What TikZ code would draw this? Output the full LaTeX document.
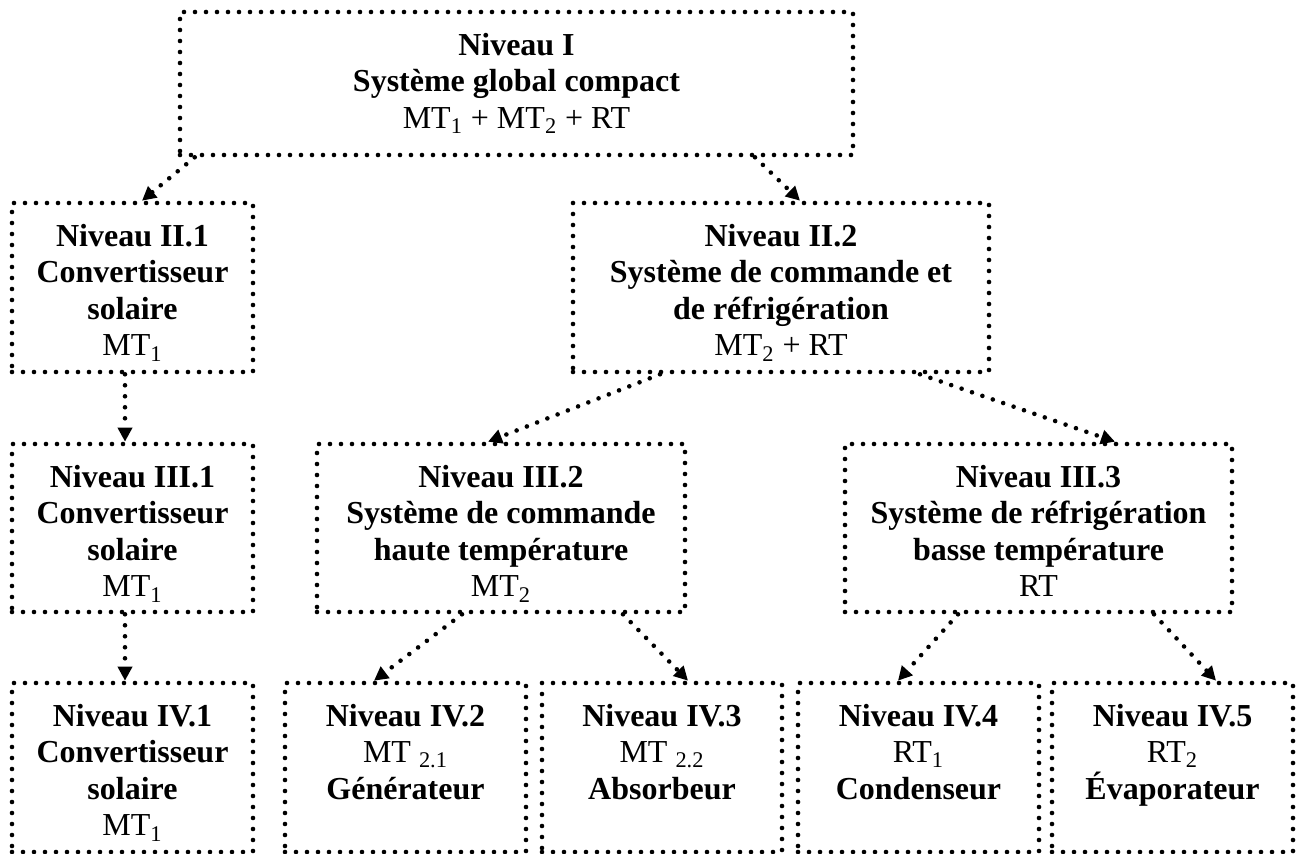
\documentclass[tikz,border=0pt]{standalone}
\usepackage{fontspec}
\setmainfont{Liberation Serif}
\usetikzlibrary{arrows.meta}
\newcommand\myhead{\rule{0pt}{21.5pt}}
\begin{document}
\begin{tikzpicture}[x=0.5pt,y=-0.5pt,
  box/.style={draw, line width=2.3pt, dash pattern=on 0pt off 5.5pt, line cap=round,
    align=center, inner sep=0pt, font=\fontsize{16}{18.3}\selectfont,
    execute at end node={\rule[-#1]{0pt}{#1}}},
  box/.default=8pt,
  link/.style={line width=2.3pt, dash pattern=on 0pt off 5.5pt, line cap=round,
    -{Triangle[length=7pt,width=7pt]}}]
\useasboundingbox (0,0) rectangle (1300,854);

\node[box=13.3pt, minimum width=336.5pt, minimum height=71.5pt] (top) at (516.5,83.5)
  {\myhead\textbf{Niveau I}\\\textbf{Système global compact}\\MT\textsubscript{1} + MT\textsubscript{2} + RT};

\node[box, minimum width=120.5pt, minimum height=84.5pt] (II1) at (132.5,287.5)
  {\myhead\textbf{Niveau II.1}\\\textbf{Convertisseur}\\\textbf{solaire}\\MT\textsubscript{1}};
\node[box, minimum width=208pt, minimum height=84.5pt] (II2) at (781,287.5)
  {\myhead\textbf{Niveau II.2}\\\textbf{Système de commande et}\\\textbf{de réfrigération}\\MT\textsubscript{2} + RT};

\node[box=7.5pt, minimum width=120.5pt, minimum height=84pt] (III1) at (132.5,528)
  {\myhead\textbf{Niveau III.1}\\\textbf{Convertisseur}\\\textbf{solaire}\\MT\textsubscript{1}};
\node[box=7.5pt, minimum width=184pt, minimum height=84pt] (III2) at (501,528)
  {\myhead\textbf{Niveau III.2}\\\textbf{Système de commande}\\\textbf{haute température}\\MT\textsubscript{2}};
\node[box=7.5pt, minimum width=193.5pt, minimum height=84pt] (III3) at (1038.5,528)
  {\myhead\textbf{Niveau III.3}\\\textbf{Système de réfrigération}\\\textbf{basse température}\\RT};

\node[box, minimum width=120.5pt, minimum height=84.5pt] (IV1) at (132.5,767.5)
  {\myhead\textbf{Niveau IV.1}\\\textbf{Convertisseur}\\\textbf{solaire}\\MT\textsubscript{1}};
\node[box, minimum width=120.5pt, minimum height=84.5pt] (IV2) at (405.5,767.5)
  {\myhead\textbf{Niveau IV.2}\\MT \textsubscript{2.1}\\\textbf{Générateur}\\};
\node[box, minimum width=120pt, minimum height=84.5pt] (IV3) at (662,767.5)
  {\myhead\textbf{Niveau IV.3}\\MT \textsubscript{2.2}\\\textbf{Absorbeur}\\};
\node[box, minimum width=120.5pt, minimum height=84.5pt] (IV4) at (918.5,767.5)
  {\myhead\textbf{Niveau IV.4}\\RT\textsubscript{1}\\\textbf{Condenseur}\\};
\node[box, minimum width=120.5pt, minimum height=84.5pt] (IV5) at (1172.5,767.5)
  {\myhead\textbf{Niveau IV.5}\\RT\textsubscript{2}\\\textbf{Évaporateur}\\};

\draw[link] ([xshift=8.5pt]top.south west) -- ([xshift=4.75pt]II1.north);
\draw[link] ([xshift=119.25pt]top.south) -- ([xshift=9.5pt]II2.north);
\draw[link] ([xshift=-3.75pt]II1.south) -- ([xshift=-3.75pt]III1.north);
\draw[link] ([xshift=-60.5pt]II2.south) -- ([xshift=-6.5pt]III2.north);
\draw[link] ([xshift=69.5pt]II2.south) -- ([xshift=38.25pt]III3.north);
\draw[link] ([xshift=-3.75pt]III1.south) -- ([xshift=-3.75pt]IV1.north);
\draw[link] ([xshift=-19.5pt]III2.south) -- ([xshift=-15.75pt]IV2.north);
\draw[link] ([xshift=61pt]III2.south) -- ([xshift=13pt]IV3.north);
\draw[link] ([xshift=-40.25pt]III3.south) -- ([xshift=-10.25pt]IV4.north);
\draw[link] ([xshift=57.75pt]III3.south) -- ([xshift=21.75pt]IV5.north);
\end{tikzpicture}
\end{document}
